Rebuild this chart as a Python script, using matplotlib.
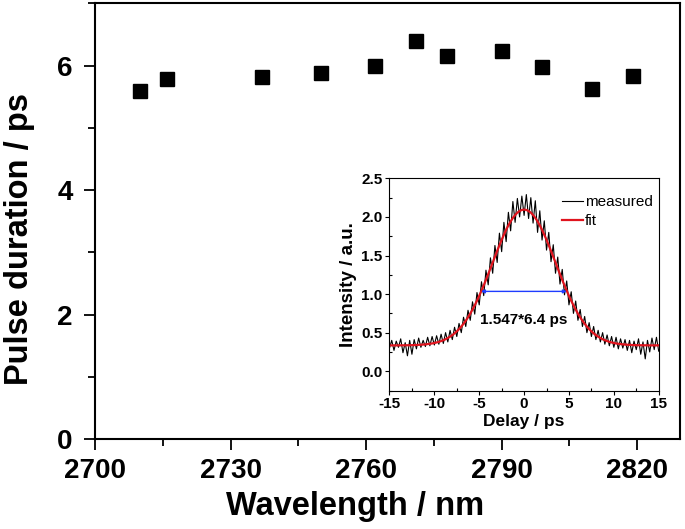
import numpy as np
import matplotlib
matplotlib.use('Agg')
import matplotlib.pyplot as plt
from matplotlib.ticker import MultipleLocator

plt.rcParams['font.family'] = ['Liberation Sans', 'DejaVu Sans']
plt.rcParams['axes.unicode_minus'] = False

""" Data """

wavelength = [2710, 2716, 2737, 2750, 2762, 2771, 2778, 2790, 2799, 2810, 2819]
duration = [5.60, 5.79, 5.82, 5.89, 6.00, 6.40, 6.15, 6.23, 5.98, 5.63, 5.83]

# inset autocorrelation trace, sampled every 0.25 ps from -15 to 15
delay = np.arange(-15, 15.001, 0.25)
measured = [0.30, 0.40, 0.27, 0.39, 0.31, 0.42, 0.24, 0.37, 0.20, 0.40,
            0.22, 0.41, 0.29, 0.43, 0.31, 0.40, 0.32, 0.44, 0.33, 0.45,
            0.34, 0.46, 0.35, 0.48, 0.36, 0.50, 0.38, 0.53, 0.41, 0.57,
            0.45, 0.62, 0.50, 0.70, 0.58, 0.79, 0.66, 0.90, 0.74, 1.02,
            0.86, 1.16, 0.98, 1.31, 1.12, 1.47, 1.27, 1.63, 1.41, 1.79,
            1.55, 1.93, 1.68, 2.06, 1.82, 2.20, 1.93, 2.24, 2.00, 2.27,
            2.02,
            2.29, 1.98, 2.25, 1.92, 2.21, 1.80, 2.08, 1.70, 1.95, 1.57,
            1.80, 1.42, 1.64, 1.27, 1.48, 1.13, 1.32, 0.99, 1.17, 0.86,
            1.03, 0.75, 0.91, 0.66, 0.80, 0.58, 0.71, 0.50, 0.63, 0.45,
            0.58, 0.41, 0.53, 0.38, 0.50, 0.35, 0.47, 0.33, 0.45, 0.31,
            0.44, 0.29, 0.42, 0.30, 0.41, 0.27, 0.40, 0.24, 0.39, 0.28,
            0.42, 0.22, 0.38, 0.16, 0.40, 0.25, 0.43, 0.28, 0.44, 0.26]
fit = [0.335, 0.335, 0.335, 0.335, 0.335, 0.336, 0.336, 0.336, 0.337, 0.337,
       0.338, 0.339, 0.340, 0.342, 0.343, 0.346, 0.348, 0.352, 0.356, 0.360,
       0.366, 0.373, 0.381, 0.391, 0.402, 0.415, 0.431, 0.448, 0.468, 0.491,
       0.517, 0.546, 0.579, 0.615, 0.655, 0.699, 0.747, 0.799, 0.855, 0.914,
       0.977, 1.044, 1.113, 1.185, 1.258, 1.333, 1.409, 1.485, 1.559, 1.632,
       1.703, 1.770, 1.833, 1.891, 1.942, 1.987, 2.025, 2.056, 2.077, 2.091,
       2.095,
       2.091, 2.077, 2.056, 2.025, 1.987, 1.942, 1.891, 1.833, 1.770, 1.703,
       1.632, 1.559, 1.485, 1.409, 1.333, 1.258, 1.185, 1.113, 1.044, 0.977,
       0.914, 0.855, 0.799, 0.747, 0.699, 0.655, 0.615, 0.579, 0.546, 0.517,
       0.491, 0.468, 0.448, 0.431, 0.415, 0.402, 0.391, 0.381, 0.373, 0.366,
       0.360, 0.356, 0.352, 0.348, 0.346, 0.343, 0.342, 0.340, 0.339, 0.338,
       0.337, 0.337, 0.336, 0.336, 0.336, 0.335, 0.335, 0.335, 0.335, 0.335]
fwhm_left, fwhm_right, fwhm_level = -4.8, 4.75, 1.035
fwhm_text = '1.547*6.4 ps'

""" Plot """

fig = plt.figure(figsize=(6.85, 5.29), dpi=100)
ax = fig.add_axes([0.1387, 0.1701, 0.854, 0.8233])
ax.plot(wavelength, duration, 's', color='black', markersize=10.5)
ax.set_xlim(2700, 2829.5)
ax.set_ylim(0, 7)
ax.xaxis.set_major_locator(MultipleLocator(30))
ax.xaxis.set_minor_locator(MultipleLocator(15))
ax.yaxis.set_major_locator(MultipleLocator(2))
ax.yaxis.set_minor_locator(MultipleLocator(1))
ax.tick_params(which='both', direction='out', width=1.3, top=False, right=False)
ax.tick_params(which='major', length=8, labelsize=20, pad=6)
ax.tick_params(which='minor', length=5)
ax.tick_params(axis='y', which='major', pad=8)
for lab in ax.get_xticklabels() + ax.get_yticklabels():
    lab.set_fontweight('bold')
for s in ax.spines.values():
    s.set_linewidth(1.5)
ax.set_xlabel('Wavelength / nm', fontsize=23.5, fontweight='bold')
ax.xaxis.set_label_coords(0.444, -0.12)
ax.set_ylabel('Pulse duration / ps', fontsize=23.5, fontweight='bold')
ax.yaxis.set_label_coords(-0.102, 0.46)

# inset
ins = fig.add_axes([0.5686, 0.2618, 0.393, 0.401])
ins.plot(delay, measured, color='black', linewidth=0.8, label='measured')
ins.plot(delay, fit, color='#e0141e', linewidth=1.6, label='fit')
ins.annotate('', xy=(fwhm_left, fwhm_level), xytext=(fwhm_right, fwhm_level),
             arrowprops=dict(arrowstyle='<|-|>', color='#1f3cff', lw=1,
                             mutation_scale=5, shrinkA=0, shrinkB=0))
ins.text(0, 0.67, fwhm_text, ha='center', va='center', fontsize=11, fontweight='bold')
ins.set_xlim(-15, 15)
ins.set_ylim(-0.25, 2.5)
ins.xaxis.set_major_locator(MultipleLocator(5))
ins.xaxis.set_minor_locator(MultipleLocator(2.5))
ins.yaxis.set_major_locator(MultipleLocator(0.5))
ins.yaxis.set_minor_locator(MultipleLocator(0.25))
ins.tick_params(which='major', direction='out', length=3, width=0.8, labelsize=11, pad=2)
ins.tick_params(which='minor', direction='in', length=2, width=0.8)
for lab in ins.get_xticklabels() + ins.get_yticklabels():
    lab.set_fontweight('bold')
for s in ins.spines.values():
    s.set_linewidth(0.8)
ins.set_xlabel('Delay / ps', fontsize=12.5, fontweight='bold', labelpad=2)
ins.set_ylabel('Intensity / a.u.', fontsize=13.5, fontweight='bold', labelpad=3)
ins.legend(loc='upper right', bbox_to_anchor=(1.0, 0.95), frameon=False,
           fontsize=11, handlelength=1.4, handletextpad=0.1,
           labelspacing=0.35, borderaxespad=0.0)

plt.savefig('out.png', dpi=100)
